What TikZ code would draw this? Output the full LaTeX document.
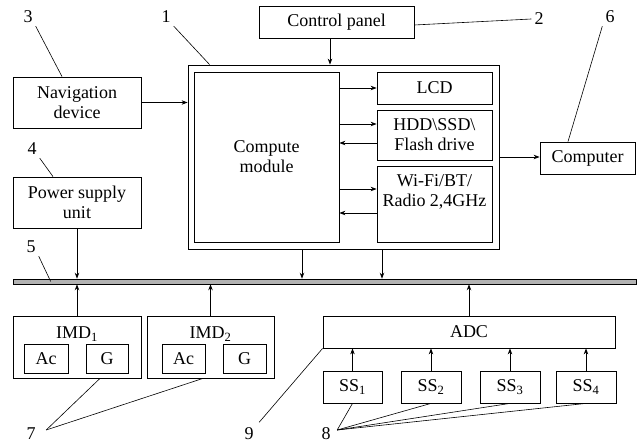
\documentclass[tikz,border=0pt]{standalone}
\usepackage{fontspec}
\setmainfont{Liberation Serif}
\usetikzlibrary{arrows.meta,positioning}

\tikzset{
  blk/.style={draw, line width=0.8pt, inner sep=0pt, align=center},
  arr/.style={-{Stealth[length=6pt,width=4.5pt]}, line width=0.8pt},
  lead/.style={line width=0.6pt},
  num/.style={inner sep=3pt}
}

\begin{document}
\begin{tikzpicture}[x=1pt, y=-1pt, font=\fontsize{18}{20}\selectfont]
    \useasboundingbox (0,0) rectangle (637,443);

    % Control panel and main unit
    \node[blk, minimum width=155pt, minimum height=32pt] (ctrl) at (336.5,22) {Control panel};
    \node[blk, minimum width=311pt, minimum height=184pt] (sys) at (343.5,157) {};
    \node[blk, minimum width=145pt, minimum height=170pt] (cm) at (266.5,157) {Compute\\module};

    % Peripherals inside the unit
    \node[blk, minimum width=115pt, minimum height=32pt] (lcd) at (434.5,88) {LCD};
    \node[blk, minimum width=115pt, minimum height=50pt] (hdd) at (434.5,135) {HDD\textbackslash SSD\textbackslash\\Flash drive};
    \node[blk, minimum width=115pt, minimum height=76pt] (wifi) at (434.5,204) {};
    \node[align=center, inner sep=0pt] (wifitxt) at (434.5,192) {Wi-Fi/BT/\\Radio 2,4GHz};

    % Left column
    \node[blk, minimum width=128pt, minimum height=51pt] (nav) at (77,102.5) {Navigation\\device};
    \node[blk, minimum width=128pt, minimum height=51pt] (psu) at (77,202.5) {Power supply\\unit};

    % Computer
    \node[blk, minimum width=95pt, minimum height=32pt] (comp) at (587.5,158) {Computer};

    % Bus
    \node[draw, line width=0.6pt, fill=gray!60, inner sep=0pt, minimum width=623pt, minimum height=5pt] (bus) at (324.5,281.5) {};

    % IMD blocks
    \node[blk, minimum width=128pt, minimum height=62pt] (imd1) at (77,347) {};
    \node (imd1t) at (77,334) {IMD\textsubscript{1}};
    \node[blk, minimum width=44pt, minimum height=29pt] (ac1) at (46,358.5) {Ac};
    \node[blk, minimum width=42pt, minimum height=29pt] (g1) at (107,358.5) {G};

    \node[blk, minimum width=127pt, minimum height=62pt] (imd2) at (210.5,347) {};
    \node (imd2t) at (210.5,334) {IMD\textsubscript{2}};
    \node[blk, minimum width=43pt, minimum height=29pt] (ac2) at (183.5,358.5) {Ac};
    \node[blk, minimum width=43pt, minimum height=29pt] (g2) at (244.5,358.5) {G};

    % ADC and sensors
    \node[blk, minimum width=292pt, minimum height=32pt] (adc) at (469,332) {ADC};
    \node[blk, minimum width=59pt, minimum height=32pt] (ss1) at (352.5,387) {SS\textsubscript{1}};
    \node[blk, minimum width=60pt, minimum height=32pt] (ss2) at (431,387) {SS\textsubscript{2}};
    \node[blk, minimum width=60pt, minimum height=32pt] (ss3) at (510,387) {SS\textsubscript{3}};
    \node[blk, minimum width=60pt, minimum height=32pt] (ss4) at (586,387) {SS\textsubscript{4}};

    % Reference numbers
    \node[num] (l1) at (166,17) {1};
    \node[num] (l2) at (539,19) {2};
    \node[num] (l3) at (28,17) {3};
    \node[num] (l4) at (32,149) {4};
    \node[num] (l5) at (31,247) {5};
    \node[num] (l6) at (610,17) {6};
    \node[num, inner sep=0.5pt] (l7) at (31,434) {7};
    \node[num, inner sep=0.5pt] (l8) at (326,434) {8};
    \node[num, inner sep=0.5pt] (l9) at (249,434) {9};

    % Connections
    \coordinate (cpout) at ([xshift=-6.5pt]ctrl.south);
    \draw[arr] (cpout) -- (cpout |- sys.north);
    \draw[arr] (nav.east) -- (nav.east -| sys.west);
    \draw[arr] (sys.east) -- (sys.east -| comp.west);

    \draw[arr] (cm.east |- lcd.west) -- (lcd.west);
    \coordinate (h1) at ([yshift=11pt]hdd.west);
    \coordinate (h2) at ([yshift=-8pt]hdd.west);
    \draw[arr] (h1 -| cm.east) -- (h1);
    \draw[arr] (h2) -- (h2 -| cm.east);
    \coordinate (w1) at ([yshift=15pt]wifi.west);
    \coordinate (w2) at ([yshift=-9pt]wifi.west);
    \draw[arr] (w1 -| cm.east) -- (w1);
    \draw[arr] (w2) -- (w2 -| cm.east);

    \coordinate (s1) at ([xshift=-41.5pt]sys.south);
    \coordinate (s2) at ([xshift=38.5pt]sys.south);
    \draw[arr] (s1) -- (s1 |- bus.north);
    \draw[arr] (s2) -- (s2 |- bus.north);
    \draw[arr] (psu.south) -- (psu.south |- bus.north);

    \draw[arr] (imd1.north) -- (imd1.north |- bus.south);
    \draw[arr] (imd2.north) -- (imd2.north |- bus.south);
    \draw[arr] (adc.north) -- (adc.north |- bus.south);
    \foreach \s in {ss1,ss2,ss3,ss4}
        \draw[arr] (\s.north) -- (\s.north |- adc.south);

    % Leader lines
    \draw[lead] (l1.south east) -- ([xshift=22pt]sys.north west);
    \draw[lead] (l2.west) -- ([yshift=-3pt]ctrl.east);
    \draw[lead] (l3.south east) -- ([xshift=-15pt]nav.north);
    \draw[lead] (l4.south east) -- ([xshift=-24pt]psu.north);
    \draw[lead] (l5.south east) -- ([xshift=38pt]bus.west);
    \draw[lead] (l6.south west) -- ([xshift=-19.5pt]comp.north);
    \coordinate (t7) at ([xshift=10pt,yshift=4pt]l7.east);
    \draw[lead] (t7) -- ([xshift=23pt]imd1.south);
    \draw[lead] (t7) -- ([xshift=-7.5pt]imd2.south);
    \coordinate (t8) at ([xshift=6pt,yshift=4pt]l8.east);
    \foreach \s in {ss1,ss2,ss3,ss4}
        \draw[lead] (t8) -- (\s.south);
    \draw[lead] ([xshift=5pt,yshift=5pt]l9.north east) -- (adc.south west);
\end{tikzpicture}
\end{document}
